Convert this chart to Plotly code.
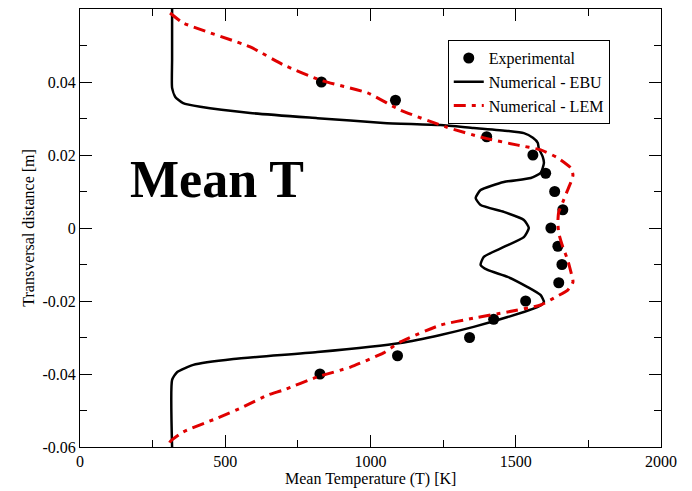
import plotly.graph_objects as go

# Experimental data
exp_T = [831, 1086, 1297, 1400, 1559, 1603, 1634, 1662, 1621, 1645, 1659, 1648, 1534, 1424, 1341, 1093, 826]
exp_y = [0.040, 0.035, 0.030, 0.025, 0.020, 0.015, 0.010, 0.005, 0.0, -0.005, -0.010, -0.015, -0.020, -0.025, -0.030, -0.035, -0.040]

# Numerical - EBU
ebu_T = [317, 317, 317, 328, 355, 414, 586, 817, 1045, 1241, 1355, 1472, 1528, 1559, 1576, 1579,
         1593, 1597, 1586, 1552, 1459, 1379, 1362, 1379, 1459, 1528, 1545, 1528, 1459, 1390, 1379,
         1403, 1472, 1541, 1586, 1597, 1576, 1472, 1355, 1241, 1103, 817, 528, 390, 334, 317, 317]
ebu_y = [0.060, 0.046, 0.0384, 0.0359, 0.0342, 0.0332, 0.0315, 0.0301, 0.0288, 0.0282, 0.0274, 0.0266,
         0.0260, 0.0247, 0.0233, 0.0219, 0.0195, 0.0178, 0.0151, 0.0137, 0.0126, 0.0104, 0.0082, 0.0063,
         0.0044, 0.0022, 0.0, -0.0025, -0.0052, -0.0079, -0.0101, -0.0115, -0.0134, -0.0162, -0.0184,
         -0.0203, -0.0216, -0.0244, -0.0271, -0.0293, -0.0315, -0.0340, -0.0359, -0.0375, -0.0395,
         -0.0416, -0.060]

# Numerical - LEM
lem_T = [310, 355, 586, 700, 828, 990, 1103, 1259, 1390, 1507, 1586, 1645, 1690, 1697, 1690, 1676,
         1662, 1648, 1645, 1648, 1662, 1679, 1690, 1697, 1679, 1631, 1586, 1472, 1355, 1241, 1103,
         1045, 931, 817, 700, 645, 562, 472, 355, 310, 300]
lem_y = [0.0589, 0.0562, 0.0496, 0.0447, 0.0405, 0.0370, 0.0323, 0.0277, 0.0247, 0.0227, 0.0214,
         0.0192, 0.0164, 0.0145, 0.0126, 0.0099, 0.0071, 0.0044, 0.0016, -0.0014, -0.0052, -0.0088,
         -0.0121, -0.0148, -0.0170, -0.0192, -0.0211, -0.0230, -0.0247, -0.0266, -0.0312, -0.0342,
         -0.0381, -0.0408, -0.0444, -0.0458, -0.0490, -0.0521, -0.0559, -0.0586, -0.0608]

x_ticks = [0, 500, 1000, 1500, 2000]
y_ticks = [-0.06, -0.04, -0.02, 0, 0.02, 0.04]
y_tick_text = ["-0.06", "-0.04", "-0.02", "0", "0.02", "0.04"]

FONT = "Liberation Serif"

fig = go.Figure()
fig.add_trace(go.Scatter(x=exp_T, y=exp_y, mode="markers", name="Experimental",
                         marker=dict(color="black", size=11, symbol="circle")))
fig.add_trace(go.Scatter(x=ebu_T, y=ebu_y, mode="lines", name="Numerical - EBU",
                         line=dict(color="black", width=2.5, shape="spline", smoothing=0.5)))
fig.add_trace(go.Scatter(x=lem_T, y=lem_y, mode="lines", name="Numerical - LEM",
                         line=dict(color="#e00000", width=3, dash="12px,6px,4px,6px",
                                   shape="spline", smoothing=0.5)))

axis_common = dict(showline=True, linecolor="black", linewidth=1, mirror="ticks",
                   ticks="inside", ticklen=12, tickcolor="black", tickwidth=1,
                   showgrid=False, zeroline=False,
                   tickfont=dict(family=FONT, size=16, color="black"))

fig.update_xaxes(range=[0, 2000], tickvals=x_ticks,
                 minor=dict(ticks="inside", ticklen=7, dtick=250, tick0=0, tickcolor="black", showgrid=False),
                 **axis_common)
fig.update_yaxes(range=[-0.06, 0.06], tickvals=y_ticks, ticktext=y_tick_text,
                 minor=dict(ticks="inside", ticklen=7, dtick=0.01, tick0=0, tickcolor="black", showgrid=False),
                 **axis_common)

fig.add_annotation(text="Mean Temperature (T) [K]", xref="paper", yref="paper",
                   x=0.5, y=-0.048, xanchor="center", yanchor="top", showarrow=False,
                   font=dict(family=FONT, size=16, color="black"))
fig.add_annotation(text="Transversal distance [m]", xref="paper", yref="paper",
                   x=-0.09, y=0.5, xanchor="center", yanchor="middle", showarrow=False,
                   textangle=-90, font=dict(family=FONT, size=16, color="black"))
fig.add_annotation(text="<b>Mean T</b>", xref="paper", yref="paper",
                   x=0.082, y=0.61, xanchor="left", yanchor="middle", showarrow=False,
                   font=dict(family=FONT, size=52, color="black"))

fig.update_layout(
    width=692, height=491,
    margin=dict(l=80, r=31, t=9, b=44),
    paper_bgcolor="white", plot_bgcolor="white",
    showlegend=True,
    legend=dict(x=0.633, y=0.929, xanchor="left", yanchor="top",
                bgcolor="white", bordercolor="black", borderwidth=1,
                font=dict(family=FONT, size=16, color="black"),
                tracegroupgap=0, itemwidth=30),
    font=dict(family=FONT, color="black"),
)

fig.write_html("out.html")
